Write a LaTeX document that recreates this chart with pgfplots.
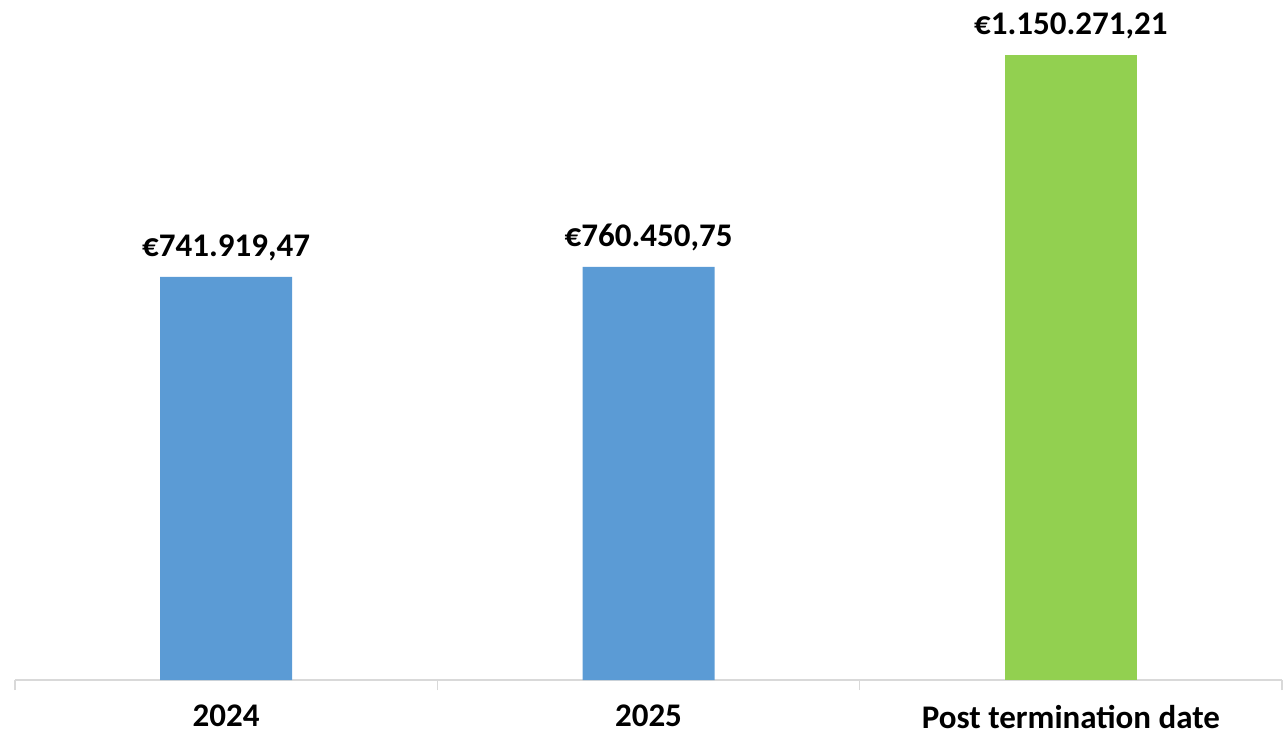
\documentclass[border=0pt]{standalone}
\usepackage{pgfplots}
\pgfplotsset{compat=1.18}
\usepackage{fontspec}
\setmainfont{Carlito}
\definecolor{barblue}{HTML}{5B9BD5}
\definecolor{bargreen}{HTML}{92D050}
\definecolor{axisgray}{HTML}{D9D9D9}
\begin{document}
\begin{tikzpicture}
\begin{axis}[
    scale only axis,
    width=1267pt, height=625pt,
    ybar, bar width=132pt, bar shift=0pt,
    xmin=-0.5, xmax=2.5,
    ymin=0, ymax=1150271.21,
    axis x line=bottom, axis y line=none,
    axis line style={axisgray, line width=1.5pt, -},
    xtick={0,1,2},
    xticklabels={2024, 2025, Post termination date},
    major tick length=0pt,
    minor xtick={-0.5,0.5,1.5,2.5},
    minor tick length=10pt,
    tick align=outside,
    minor tick style={axisgray, line width=1.5pt},
    xticklabel style={font=\fontsize{33}{39}\selectfont\bfseries, anchor=north, inner sep=0pt, yshift=-25pt},
    point meta=explicit symbolic,
    nodes near coords,
    every node near coord/.append style={font=\fontsize{33}{39}\selectfont\bfseries, anchor=base, inner sep=0pt, yshift=20pt, black},
    clip=false,
]
\addplot[fill=barblue, draw=none] coordinates {
    (0,741919.47) [€741.919,47]
    (1,760450.75) [€760.450,75]
};
\addplot[fill=bargreen, draw=none] coordinates {
    (2,1150271.21) [€1.150.271,21]
};
\end{axis}
\pgfresetboundingbox
\path[use as bounding box] ([xshift=-15pt,yshift=-56pt]current axis.south west) rectangle ([xshift=6pt,yshift=55pt]current axis.north east);
\end{tikzpicture}
\end{document}
